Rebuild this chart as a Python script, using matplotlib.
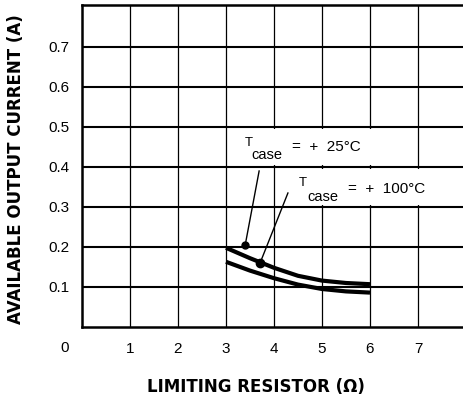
import matplotlib
matplotlib.use("Agg")
import matplotlib.pyplot as plt
from matplotlib.patches import Rectangle

plt.rcParams['font.family'] = ['Liberation Sans', 'DejaVu Sans']

# Data
resistor = [3.0, 3.5, 4.0, 4.5, 5.0, 5.5, 6.0]
current_25c = [0.198, 0.172, 0.148, 0.128, 0.116, 0.110, 0.107]
current_100c = [0.163, 0.141, 0.122, 0.106, 0.095, 0.089, 0.086]
x_ticks = [1, 2, 3, 4, 5, 6, 7]
y_ticks = [0.1, 0.2, 0.3, 0.4, 0.5, 0.6, 0.7]
y_tick_labels = ["0.1", "0.2", "0.3", "0.4", "0.5", "0.6", "0.7"]

fig = plt.figure(figsize=(4.64, 3.96), dpi=100)
ax = fig.add_axes([82/464, 69/396, 384/464, 322/396])
ax.set_xlim(0, 8)
ax.set_ylim(0, 0.805)

# grid
for xv in x_ticks:
    ax.axvline(xv, color='black', lw=0.9, zorder=1)
for yv in y_ticks:
    ax.axhline(yv, color='black', lw=1.5, zorder=2)

# white-out behind the labels (vertical grid lines interrupted)
ax.add_patch(Rectangle((3.3, 0.406), 3.2, 0.088, facecolor='white', edgecolor='none', zorder=1.5))
ax.add_patch(Rectangle((4.4, 0.306), 3.5, 0.088, facecolor='white', edgecolor='none', zorder=1.5))

ax.plot(resistor, current_25c, color='black', lw=3.0, solid_capstyle='butt', zorder=3)
ax.plot(resistor, current_100c, color='black', lw=3.0, solid_capstyle='butt', zorder=3)

for s in ['left', 'bottom', 'top']:
    ax.spines[s].set_linewidth(1.8)
ax.spines['right'].set_visible(False)

ax.set_xticks(x_ticks)
ax.set_xticklabels([str(v) for v in x_ticks], fontsize=11)
ax.set_yticks(y_ticks)
ax.set_yticklabels(y_tick_labels, fontsize=11)
ax.tick_params(axis='both', length=0)
ax.tick_params(axis='x', pad=11)
ax.tick_params(axis='y', pad=9)

fig.text(65/464, 1 - 348/396, "0", fontsize=11, ha='center', va='center')

ax.set_ylabel("AVAILABLE OUTPUT CURRENT (A)", fontsize=12, fontweight='bold',
              family='DejaVu Sans')
ax.yaxis.set_label_coords(-(82-25)/384, 0.49)
ax.set_xlabel("LIMITING RESISTOR (\u03a9)", fontsize=12, fontweight='bold', family='DejaVu Sans')
ax.xaxis.set_label_coords((256-82)/384, -(378-327)/322)

# annotations
ax.text(3.40, 0.459, "T", fontsize=9.5, ha='left', va='center', zorder=5)
ax.text(3.53, 0.430, "case", fontsize=10.5, ha='left', va='center', zorder=5)
ax.text(4.37, 0.451, "=  +  25\u00b0C", fontsize=11, ha='left', va='center', zorder=5)
ax.text(4.51, 0.359, "T", fontsize=9.5, ha='left', va='center', zorder=5)
ax.text(4.69, 0.326, "case", fontsize=10.5, ha='left', va='center', zorder=5)
ax.text(5.54, 0.345, "=  +  100\u00b0C", fontsize=11, ha='left', va='center', zorder=5)

ax.plot([3.69, 3.40], [0.39, 0.205], color='black', lw=1.0, zorder=4)
ax.plot([4.29, 3.71], [0.335, 0.16], color='black', lw=1.0, zorder=4)
ax.plot([3.40], [0.205], 'o', color='black', ms=5, zorder=4)
ax.plot([3.71], [0.16], 'o', color='black', ms=6, zorder=4)

fig.savefig("out.png", dpi=100)
